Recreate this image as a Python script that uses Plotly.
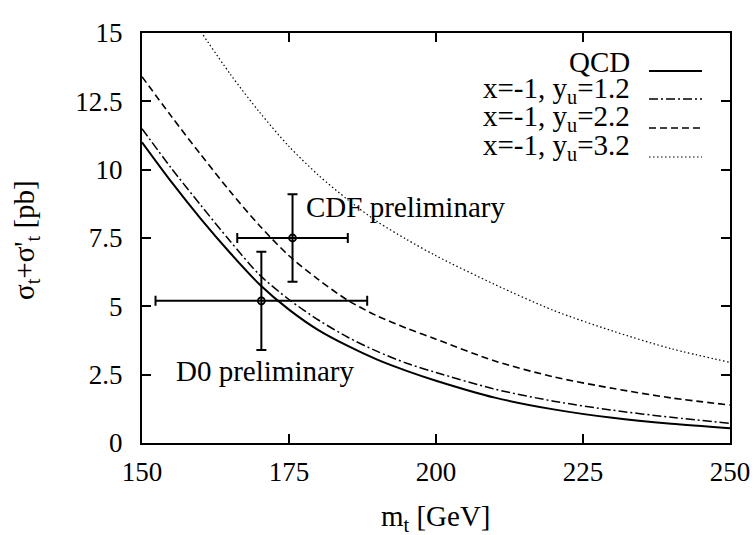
import plotly.graph_objects as go

# ---- data ----
mt = [150, 155, 160, 165, 170, 175, 180, 185, 190, 195, 200, 210, 220, 230, 240, 250]
qcd = [11.0, 9.55, 8.2, 6.95, 5.8, 4.88, 4.13, 3.55, 3.05, 2.64, 2.28, 1.66, 1.23, 0.92, 0.7, 0.54]
yu12 = [11.5, 10.05, 8.7, 7.38, 6.15, 5.25, 4.5, 3.87, 3.35, 2.92, 2.58, 1.97, 1.53, 1.2, 0.94, 0.72]
yu22 = [13.4, 11.95, 10.55, 9.2, 7.95, 6.85, 5.98, 5.22, 4.65, 4.2, 3.8, 3.0, 2.42, 2.0, 1.65, 1.39]
mt_d = [160, 165, 170, 175, 180, 185, 190, 195, 200, 210, 220, 230, 240, 250]
yu32 = [15.05, 13.5, 12.1, 10.85, 9.8, 8.9, 8.1, 7.45, 6.85, 5.8, 4.85, 4.1, 3.45, 2.95]

exp_names = ["CDF preliminary", "D0 preliminary"]
exp_m = [175.6, 170.3]
exp_m_err = [9.4, 18.0]
exp_sig = [7.5, 5.2]
exp_sig_up = [1.6, 1.8]
exp_sig_dn = [1.6, 1.8]

legend_names = ["QCD", "x=-1, y<sub>u</sub>=1.2", "x=-1, y<sub>u</sub>=2.2", "x=-1, y<sub>u</sub>=3.2"]

x_ticks = [150, 175, 200, 225, 250]
y_ticks = [0, 2.5, 5, 7.5, 10, 12.5, 15]
y_tick_text = ["0", "2.5", "5", "7.5", "10", "12.5", "15"]

x_title = "m<sub>t</sub> [GeV]"
y_title = "σ<sub>t</sub>+σ'<sub>t</sub> [pb]"

FONT = "Liberation Serif, Times New Roman, Times, serif"
FS_TICK = 27
FS_TEXT = 29

styles = [
    dict(width=2.0, dash="solid"),
    dict(width=1.5, dash="9px,3px,2px,3px"),
    dict(width=1.6, dash="7px,4px"),
    dict(width=1.2, dash="1.5px,2.5px"),
]

fig = go.Figure()
series = [(mt, qcd), (mt, yu12), (mt, yu22), (mt_d, yu32)]
for (xs, ys), st, nm in zip(series, styles, legend_names):
    fig.add_trace(go.Scatter(x=xs, y=ys, mode="lines",
                             line=dict(color="black", width=st["width"], dash=st["dash"], shape="spline", smoothing=0.8),
                             name=nm, showlegend=False))

fig.add_trace(go.Scatter(
    x=exp_m, y=exp_sig, mode="markers",
    marker=dict(symbol="circle-open", size=7, color="black", line=dict(width=1.8, color="black")),
    error_x=dict(type="data", array=exp_m_err, color="black", thickness=2, width=5),
    error_y=dict(type="data", array=exp_sig_up, arrayminus=exp_sig_dn, color="black", thickness=2, width=5),
    showlegend=False))

# experiment labels
fig.add_annotation(x=177.6, y=8.65, text=exp_names[0], showarrow=False, xanchor="left", yanchor="middle",
                   font=dict(family=FONT, size=FS_TEXT, color="black"))
fig.add_annotation(x=155.4, y=2.64, text=exp_names[1], showarrow=False, xanchor="left", yanchor="middle",
                   font=dict(family=FONT, size=FS_TEXT, color="black"))

# page pixel positions -> paper coordinates (plot area on the page: 142..730 x 33..443)
px0, px1 = 142, 730
py0, py1 = 443, 33
def xp(p):
    return (p - px0) / (px1 - px0)
def yp(p):
    return (py0 - p) / (py0 - py1)

# custom legend: text right-aligned, line sample on the right
line_y = [71, 99, 128, 157]
text_y = [62, 90, 118, 147]
for i, nm in enumerate(legend_names):
    fig.add_annotation(xref="paper", yref="paper", x=xp(632), y=yp(text_y[i]), text=nm, showarrow=False,
                       xanchor="right", yanchor="middle", font=dict(family=FONT, size=FS_TEXT, color="black"))
    fig.add_shape(type="line", xref="paper", yref="paper", x0=xp(649), x1=xp(702), y0=yp(line_y[i]), y1=yp(line_y[i]),
                  line=dict(color="black", width=styles[i]["width"], dash=styles[i]["dash"]))

# axis titles
fig.add_annotation(xref="paper", yref="paper", x=xp(436), y=yp(518), text=x_title, showarrow=False,
                   xanchor="center", yanchor="middle", font=dict(family=FONT, size=FS_TEXT, color="black"))
fig.add_annotation(xref="paper", yref="paper", x=xp(26), y=yp(240), text=y_title, showarrow=False, textangle=-90,
                   xanchor="center", yanchor="middle", font=dict(family=FONT, size=FS_TEXT, color="black"))

axis_common = dict(showgrid=False, zeroline=False, showline=True, linecolor="black", linewidth=2,
                   mirror="ticks", ticks="inside", ticklen=9, tickwidth=1.5, tickcolor="black",
                   automargin=False, tickfont=dict(family=FONT, size=FS_TICK, color="black"))

fig.update_xaxes(range=[150, 250], tickvals=x_ticks, ticktext=[str(v) for v in x_ticks],
                 ticklabelstandoff=4, **axis_common)
fig.update_yaxes(range=[0, 15], tickvals=y_ticks, ticktext=y_tick_text,
                 ticklabelstandoff=12, **axis_common)

fig.update_layout(width=754, height=535, margin=dict(l=142, r=24, t=33, b=92),
                  plot_bgcolor="white", paper_bgcolor="white", showlegend=False)

# remove the browser's default body margin so the figure sits at the page origin
fig.write_html("out.html", config={"displayModeBar": False},
               post_script="document.body.style.margin='0px';document.body.style.overflow='hidden';")
